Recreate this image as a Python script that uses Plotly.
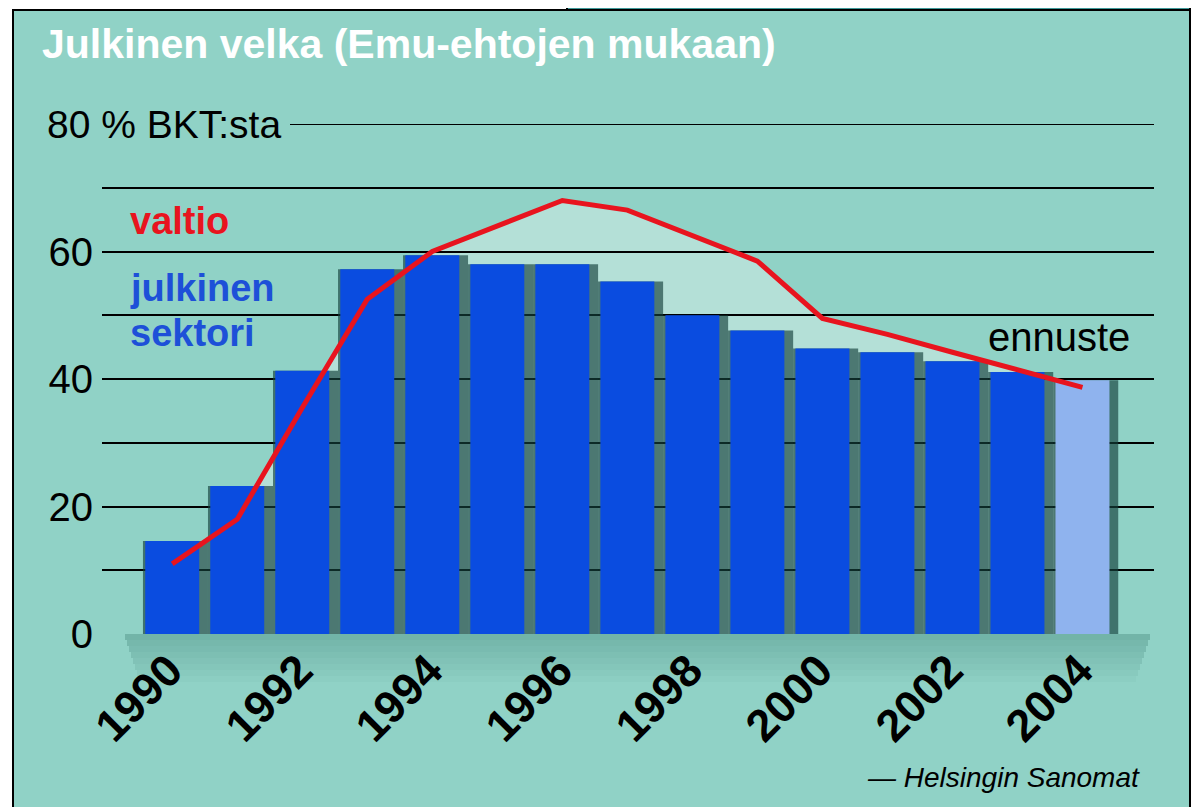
import plotly.graph_objects as go

years = list(range(1990, 2005))
julkinen_sektori = [14.6, 23.2, 41.3, 57.2, 59.4, 58.0, 58.0, 55.3, 50.0, 47.6, 44.8, 44.2, 42.8, 41.1, 39.8]
valtio = [11.0, 18.0, 35.5, 52.5, 60.0, 64.0, 68.0, 66.5, 62.5, 58.5, 49.5, 47.0, 44.2, 41.5, 38.7]
forecast_year = 2004
y_tickvals = [0, 10, 20, 30, 40, 50, 60, 70]
y_ticktext = ["0", "", "20", "", "40", "", "60", ""]
x_tickvals = [1990, 1992, 1994, 1996, 1998, 2000, 2002, 2004]

TEAL = "#90d2c6"
BAR_BLUE = "#0a4ce0"
BAR_LIGHT = "#8fb3ee"
RED = "#e8141e"
SANS = "Liberation Sans, Arial, sans-serif"

OFF = 8  # page body margin
W, H = 1202 - OFF, 807 - OFF
L, T = 102 - OFF, 124 - OFF
PW, PH = 1052, 510
R, B = W - L - PW, H - T - PH


def px(x):
    """screen x -> paper"""
    return (x - OFF - L) / PW


def py(y):
    """screen y -> paper"""
    return (T + PH - (y - OFF)) / PH


bar_colors = [BAR_LIGHT if y == forecast_year else BAR_BLUE for y in years]

fig = go.Figure()

# dark shadow behind bars
fig.add_trace(go.Bar(
    x=[y + 0.05 for y in years], y=julkinen_sektori, width=1.0,
    marker=dict(color="rgba(20,65,60,0.65)", line=dict(width=0)),
    hoverinfo="skip", showlegend=False))

fig.add_trace(go.Bar(
    x=years, y=julkinen_sektori, width=0.83,
    marker=dict(color=bar_colors, line=dict(width=0)),
    name="julkinen sektori", showlegend=False))

fig.add_trace(go.Scatter(
    x=years, y=valtio, mode="lines",
    line=dict(color=RED, width=5),
    name="valtio", showlegend=False))

# glow under the red line, as a shape below everything
glow_path = "M {},0 ".format(years[0]) + " ".join(
    "L {},{}".format(x, v) for x, v in zip(years, valtio)) + " L {},0 Z".format(years[-1])

shapes = [
    # main panel
    dict(type="rect", xref="paper", yref="paper",
         x0=px(13), x1=px(1190), y0=py(830), y1=py(10),
         fillcolor=TEAL, line=dict(color="black", width=2), layer="below"),
    # small top-right tab
    dict(type="rect", xref="paper", yref="paper",
         x0=px(567), x1=px(1190), y0=py(10), y1=py(6),
         fillcolor="#3f9a9a", line=dict(color="black", width=2), layer="below"),
    # glow under the line
    dict(type="path", xref="x", yref="y", path=glow_path,
         fillcolor="rgba(235,245,240,0.40)", line=dict(width=0), layer="below"),
    # 80 line
    dict(type="line", xref="paper", yref="y",
         x0=px(290), x1=1, y0=80, y1=80,
         line=dict(color="black", width=2), layer="below"),
]

# soft dark gradient under the baseline
for i in range(8):
    shapes.append(dict(type="rect", xref="paper", yref="paper",
                       x0=px(125 + 2 * i), x1=px(1150 - 2 * i),
                       y0=py(634 + 6 * (i + 1)), y1=py(634 + 6 * i),
                       fillcolor="rgba(30,95,85,{:.3f})".format(0.26 * (1 - i / 8)),
                       line=dict(width=0), layer="below"))

annotations = [
    dict(text="<b>Julkinen velka (Emu-ehtojen mukaan)</b>", xref="paper", yref="paper",
         x=px(40), y=py(44), xanchor="left", yanchor="middle", showarrow=False,
         font=dict(family=SANS, size=41, color="white")),
    dict(text="80 % BKT:sta", xref="paper", yref="y",
         x=px(283), y=80, xanchor="right", yanchor="middle", showarrow=False,
         font=dict(family=SANS, size=39, color="black")),
    dict(text="<b>valtio</b>", xref="paper", yref="paper",
         x=px(128), y=py(221), xanchor="left", yanchor="middle", showarrow=False,
         font=dict(family=SANS, size=38, color=RED)),
    dict(text="<b>julkinen</b>", xref="paper", yref="paper",
         x=px(128), y=py(288), xanchor="left", yanchor="middle", showarrow=False,
         font=dict(family=SANS, size=38, color="#1d50d8")),
    dict(text="<b>sektori</b>", xref="paper", yref="paper",
         x=px(128), y=py(333), xanchor="left", yanchor="middle", showarrow=False,
         font=dict(family=SANS, size=38, color="#1d50d8")),
    dict(text="ennuste", xref="paper", yref="paper",
         x=px(986), y=py(337), xanchor="left", yanchor="middle", showarrow=False,
         font=dict(family=SANS, size=40, color="black")),
    dict(text="<i>— Helsingin Sanomat</i>", xref="paper", yref="paper",
         x=px(1142), y=py(778), xanchor="right", yanchor="middle", showarrow=False,
         font=dict(family=SANS, size=28, color="black")),
]

fig.update_layout(
    width=W, height=H,
    margin=dict(l=L, r=R, t=T, b=B, pad=0),
    paper_bgcolor="white", plot_bgcolor="rgba(0,0,0,0)",
    barmode="overlay", showlegend=False,
    shapes=shapes, annotations=annotations,
    xaxis=dict(range=[1988.92, 2005.1], tickmode="array", tickvals=x_tickvals,
               tickangle=-45, showgrid=False, zeroline=False, showline=False,
               ticks="", ticklabelstandoff=0, ticklabelshift=-3,
               tickfont=dict(family=SANS, size=45, color="black", weight="bold")),
    yaxis=dict(range=[0, 80], tickmode="array", tickvals=y_tickvals, ticktext=y_ticktext,
               showgrid=True, gridcolor="black", gridwidth=2, zeroline=False,
               showline=False, ticks="", ticklabelstandoff=8,
               tickfont=dict(family=SANS, size=40, color="black")),
)

fig.write_html("out.html")
